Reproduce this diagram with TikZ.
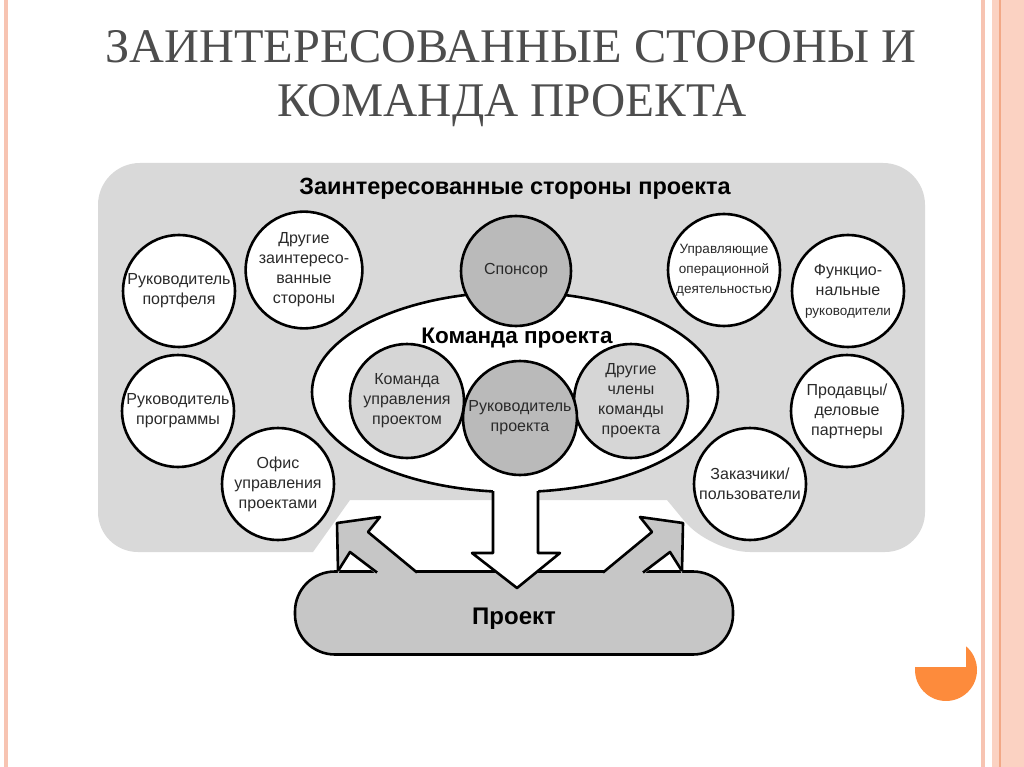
\documentclass[tikz,border=0pt]{standalone}
\usepackage{fontspec}
\setmainfont{Liberation Sans}
\newfontfamily\titlefont{Liberation Serif}
\usetikzlibrary{shapes.geometric}
\definecolor{bggray}{HTML}{D9D9D9}
\definecolor{darkfill}{HTML}{BABABA}
\definecolor{lightfill}{HTML}{D6D6D6}
\definecolor{projfill}{HTML}{C6C6C6}
\definecolor{txt}{HTML}{2A2A2A}
\definecolor{titlecol}{HTML}{4D4D4D}
\definecolor{stripeA}{HTML}{F7C4B2}
\definecolor{stripeB}{HTML}{FBD2C2}
\definecolor{stripeC}{HTML}{F2A886}
\definecolor{orangedec}{HTML}{FD8B3C}
\begin{document}
\begin{tikzpicture}[x=1pt,y=-1pt,
  circ/.style={circle, draw=black, line width=2.6pt, fill=white, minimum size=112pt,
    inner sep=0pt, align=center, text=txt, font=\fontsize{16}{20}\selectfont},
  outl/.style={draw=black, line width=2.6pt, line join=round},
  heading/.style={anchor=base, font=\bfseries\fontsize{23.5}{26}\selectfont, text=black},
  titletext/.style={anchor=base, text=titlecol, font=\titlefont\fontsize{48.3}{52}\selectfont}]
\useasboundingbox (0,0) rectangle (1024,767);
\fill[white] (0,0) rectangle (1024,767);
% border stripes
\fill[stripeA] (4,0) rectangle (8,767);
\fill[stripeA] (981,0) rectangle (985,767);
\fill[stripeB] (992,0) rectangle (1024,767);
\fill[stripeC] (999,0) rectangle (1001,767);
% title
\node[titletext] (t1) at (511,63) {ЗАИНТЕРЕСОВАННЫЕ СТОРОНЫ И};
\node[titletext, xscale=0.98] (t2) at (512,117) {КОМАНДА ПРОЕКТА};
% stakeholder background
\fill[bggray] (98,350) [rounded corners=42pt] -- (98,163) -- (925,163)
  [rounded corners=40pt] -- (925,552) -- (710,552) [sharp corners] -- (667,500) -- (350,500)
  -- (313,552) [rounded corners=40pt] -- (98,552) [sharp corners] -- cycle;
\node[heading] (shtitle) at (515,195) {Заинтересованные стороны проекта};
% outer circles
\node[circ] (portf) at (179,291) {Руководитель\\портфеля};
\node[circ] (other) at (304,270) {Другие\\заинтересо-\\ванные\\стороны};
\node[circ] (prog) at (178,411) {Руководитель\\программы};
\node[circ] (pmo) at (278,484) {Офис\\управления\\проектами};
\node[circ, font=\fontsize{13.5}{20}\selectfont] (ops) at (724,270) {Управляющие\\операционной\\деятельностью};
\node[circ] (func) at (848,291) {Функцио-\\нальные\\{\fontsize{13.5}{20}\selectfont руководители}};
\node[circ] (vend) at (847,411) {Продавцы/\\деловые\\партнеры};
\node[circ] (cust) at (750,484) {Заказчики/\\пользователи};
% team ellipse
\node[ellipse, draw=black, line width=2.6pt, fill=white, minimum width=406pt,
  minimum height=200pt, inner sep=0pt] (team) at (515,392) {};
% stem of the down arrow
\fill[white] (493,484) -- (493,553) -- (472,553) -- (517,588) -- (560,553) -- (538,553) -- (538,484) -- cycle;
% sponsor
\node[circ, fill=darkfill, minimum size=110pt] (sponsor) at (516,271) {Спонсор};
\node[heading, font=\bfseries\fontsize{22.5}{26}\selectfont] (teamtitle) at (517,343) {Команда проекта};
\node[circ, fill=lightfill, minimum size=114pt] (pmt) at (407,401) {Команда\\управления\\проектом};
\node[circ, fill=lightfill, minimum size=114pt] (othm) at (631,401) {Другие\\члены\\команды\\проекта};
\node[circ, fill=darkfill, minimum size=114pt] (pm) at (520,418) {Руководитель\\проекта};
% project
\node[draw=black, line width=2.6pt, fill=projfill, rounded corners=40pt, minimum width=438pt,
  minimum height=83pt, inner sep=0pt] (proj) at (514,613) {};
\node[anchor=base, font=\bfseries\fontsize{24}{28}\selectfont] (projtext) at (proj.center |- 0,624) {Проект};
% up arrows
\fill[projfill] (338,574) -- (337,523) -- (380,517) -- (368,532) -- (419,575) -- (377,575) -- (350,552) -- cycle;
\draw[outl] (338,571) -- (337,523) -- (380,517) -- (368,532) -- (417,572.5);
\draw[outl] (377,572.5) -- (350,552) -- (338,571);
\fill[projfill] (682,574) -- (683,523) -- (640,517) -- (652,532) -- (601,575) -- (643,575) -- (670,552) -- cycle;
\draw[outl] (682,571) -- (683,523) -- (640,517) -- (652,532) -- (603,572.5);
\draw[outl] (643,572.5) -- (670,552) -- (682,571);
% down arrow
\fill[white] (493,560) -- (472,553) -- (517,588) -- (560,553) -- (538,560) -- cycle;
\draw[outl] (493,491) -- (493,553) -- (472,553) -- (517,588) -- (560,553) -- (538,553) -- (538,491);
% orange decoration
\begin{scope}[shift={(946,670)}, y=1pt]
\fill[orangedec] (-31,3) -- (20,3) -- (20,23.7) arc[start angle=49.8, end angle=-185.6, radius=31] -- cycle;
\end{scope}
\end{tikzpicture}
\end{document}
